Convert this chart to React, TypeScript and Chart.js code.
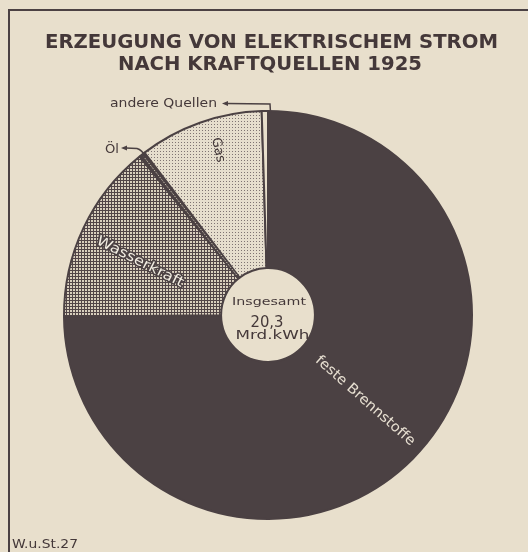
import React, { useEffect, useRef } from "react";
import { Chart, registerables } from "chart.js";

Chart.register(...registerables);

// ---- data (Mrd. kWh) ----
const categories = ["feste Brennstoffe", "Wasserkraft", "Öl", "Gas", "andere Quellen"];
const values = [15.2, 2.9, 0.1, 2.0, 0.1];
const titleLines = ["ERZEUGUNG VON ELEKTRISCHEM STROM", "NACH KRAFTQUELLEN 1925"];
const totalLines = ["Insgesamt", "20,3", "Mrd.kWh"];
const sourceNote = "W.u.St.27";

const PAPER = "#e8dfcc";
const INK = "#4b4143";
const TEXT = "#443839";
const FONT = '"DejaVu Sans", sans-serif';

function makeHatch(): CanvasPattern | string {
  const c = document.createElement("canvas");
  c.width = 3;
  c.height = 3;
  const g = c.getContext("2d");
  if (!g) return "#8a7f7c";
  g.fillStyle = "#d8cfbd";
  g.fillRect(0, 0, 3, 3);
  g.fillStyle = "#514547";
  g.fillRect(0, 0, 3, 1);
  g.fillRect(0, 0, 1, 3);
  return g.createPattern(c, "repeat") || "#8a7f7c";
}

function makeDots(): CanvasPattern | string {
  const c = document.createElement("canvas");
  c.width = 3;
  c.height = 3;
  const g = c.getContext("2d");
  if (!g) return "#d8cfbe";
  g.fillStyle = "#e6decd";
  g.fillRect(0, 0, 3, 3);
  g.fillStyle = "#7f7472";
  g.fillRect(1, 1, 1, 1);
  return g.createPattern(c, "repeat") || "#d8cfbe";
}

type TextOpts = {
  weight?: string;
  color?: string;
  angle?: number;
  baseline?: CanvasTextBaseline;
  stroke?: string;
  strokeWidth?: number;
};

function fitText(
  ctx: CanvasRenderingContext2D,
  text: string,
  x: number,
  y: number,
  width: number,
  size: number,
  opts: TextOpts = {}
) {
  ctx.save();
  ctx.font = `${opts.weight || "normal"} ${size}px ${FONT}`;
  const m = ctx.measureText(text).width || 1;
  ctx.translate(x, y);
  if (opts.angle) ctx.rotate((opts.angle * Math.PI) / 180);
  ctx.scale(width / m, 1);
  ctx.textAlign = "center";
  ctx.textBaseline = opts.baseline || "alphabetic";
  if (opts.stroke) {
    ctx.lineJoin = "round";
    ctx.lineWidth = opts.strokeWidth || 3;
    ctx.strokeStyle = opts.stroke;
    ctx.strokeText(text, 0, 0);
  }
  ctx.fillStyle = opts.color || TEXT;
  ctx.fillText(text, 0, 0);
  ctx.restore();
}

function arrowHeadLeft(ctx: CanvasRenderingContext2D, x: number, y: number) {
  ctx.beginPath();
  ctx.moveTo(x, y);
  ctx.lineTo(x + 6, y - 2.5);
  ctx.lineTo(x + 6, y + 2.5);
  ctx.closePath();
  ctx.fill();
}

const decorPlugin = {
  id: "decor",
  afterDatasetsDraw(chart: any) {
    const ctx: CanvasRenderingContext2D = chart.ctx;
    const meta = chart.getDatasetMeta(0);
    // dotted light line inside the thin "Öl" slice
    const oil = meta.data[2];
    if (oil) {
      const p = oil.getProps(["x", "y", "startAngle", "endAngle", "innerRadius", "outerRadius"], true);
      const mid = (p.startAngle + p.endAngle) / 2;
      ctx.save();
      ctx.strokeStyle = "#cfc6b4";
      ctx.lineWidth = 1;
      ctx.setLineDash([1.5, 1.5]);
      ctx.beginPath();
      ctx.moveTo(p.x + Math.cos(mid) * (p.innerRadius + 4), p.y + Math.sin(mid) * (p.innerRadius + 4));
      ctx.lineTo(p.x + Math.cos(mid) * (p.outerRadius - 3), p.y + Math.sin(mid) * (p.outerRadius - 3));
      ctx.stroke();
      ctx.restore();
    }
  },
  afterDraw(chart: any) {
    const ctx: CanvasRenderingContext2D = chart.ctx;
    ctx.save();
    // frame
    ctx.strokeStyle = INK;
    ctx.lineWidth = 2;
    ctx.beginPath();
    ctx.moveTo(9, 552);
    ctx.lineTo(9, 10);
    ctx.lineTo(528, 10);
    ctx.stroke();

    // title
    fitText(ctx, titleLines[0], 271.5, 48, 453, 20, { weight: "bold", color: TEXT });
    fitText(ctx, titleLines[1], 270, 70, 304, 20, { weight: "bold", color: TEXT });

    // center total
    fitText(ctx, totalLines[0], 269, 305, 74, 11, { color: TEXT, weight: "500" });
    fitText(ctx, totalLines[1], 267, 327, 33, 16, { color: TEXT, weight: "500" });
    fitText(ctx, totalLines[2], 272.5, 339, 74, 12.5, { color: TEXT, weight: "500" });

    // slice labels
    fitText(ctx, categories[0], 365, 401, 128, 14, { color: "#e8e0d2", angle: 41.5, baseline: "middle" });
    fitText(ctx, categories[1], 140, 262, 96, 14, {
      color: "#f3eee3",
      angle: 27,
      baseline: "middle",
      stroke: INK,
      strokeWidth: 3,
    });
    fitText(ctx, categories[3], 218, 150, 25, 13, { color: TEXT, angle: 78, baseline: "middle" });
    fitText(ctx, categories[2], 112, 153, 14, 11.5, { color: TEXT });
    fitText(ctx, categories[4], 163.5, 107, 107, 12, { color: TEXT });

    // leader lines
    ctx.strokeStyle = INK;
    ctx.fillStyle = INK;
    ctx.lineWidth = 1.5;
    ctx.beginPath();
    ctx.moveTo(126, 148);
    ctx.lineTo(137, 148.5);
    ctx.quadraticCurveTo(142, 150, 145, 156);
    ctx.stroke();
    arrowHeadLeft(ctx, 121, 148);

    ctx.beginPath();
    ctx.moveTo(227, 103.5);
    ctx.lineTo(270, 104);
    ctx.lineTo(270.5, 112);
    ctx.stroke();
    arrowHeadLeft(ctx, 222, 103.5);

    // source note
    fitText(ctx, sourceNote, 45, 548, 66, 13, { color: TEXT });
    ctx.restore();
  },
};

export default function App() {
  const ref = useRef<HTMLCanvasElement | null>(null);
  useEffect(() => {
    if (!ref.current) return;
    const hatch = makeHatch();
    const dots = makeDots();
    const chart = new Chart(ref.current, {
      type: "doughnut",
      data: {
        labels: categories,
        datasets: [
          {
            data: values,
            backgroundColor: [INK, hatch as any, INK, dots as any, PAPER],
            borderColor: INK,
            borderWidth: 2,
            hoverOffset: 0,
          },
        ],
      },
      options: {
        responsive: false,
        animation: false,
        cutout: "23%",
        layout: { padding: { left: 63, right: 55, top: 110, bottom: 32 } },
        plugins: {
          legend: { display: false },
          title: { display: false },
          tooltip: { enabled: false },
        },
      },
      plugins: [decorPlugin],
    });
    return () => chart.destroy();
  }, []);
  return (
    <div style={{ position: "fixed", left: 0, top: 0, width: 528, height: 552, background: PAPER }}>
      <canvas ref={ref} width={528} height={552} style={{ display: "block" }} />
    </div>
  );
}
